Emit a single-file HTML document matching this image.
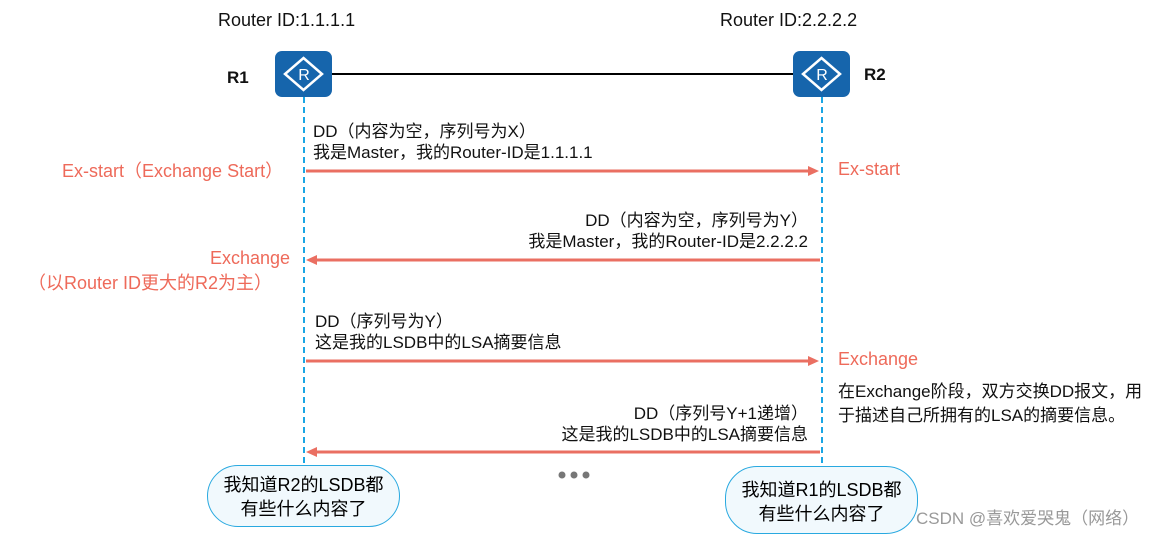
<!DOCTYPE html>
<html><head><meta charset="utf-8"><style>
body{margin:0;width:1170px;height:537px;background:#fff;position:relative;overflow:hidden;font-family:"Liberation Sans","Noto Sans CJK SC",sans-serif;}
.t{position:absolute;white-space:nowrap;font-size:17px;color:#111;line-height:21px;}
.o{color:#ee6a5a;font-size:18px;}
.b{position:absolute;border:1.5px solid #29a9e0;background:#f1f9fd;border-radius:32px;text-align:center;font-size:18px;line-height:24px;padding-top:7px;box-sizing:border-box;}
</style></head><body>
<svg width="1170" height="537" style="position:absolute;left:0;top:0">
<line x1="332" y1="74" x2="793" y2="74" stroke="#000" stroke-width="2"/>
<line x1="304" y1="97" x2="304" y2="466" stroke="#1aa6e4" stroke-width="2" stroke-dasharray="6,4"/>
<line x1="822" y1="97" x2="822" y2="466" stroke="#1aa6e4" stroke-width="2" stroke-dasharray="6,4"/>
<g fill="#1665ac"><rect x="275" y="51" width="57" height="46" rx="7"/><rect x="793" y="51" width="57" height="46" rx="7"/></g>
<g fill="none" stroke="#fff" stroke-width="2.5"><polygon points="303.5,58 322,74 303.5,90 285,74"/><polygon points="821.5,58 840,74 821.5,90 803,74"/></g>
<g fill="#fff" font-size="16" text-anchor="middle" font-family="Liberation Sans"><text x="304" y="80">R</text><text x="822" y="80">R</text></g>
<g stroke="#ea6f62" stroke-width="3" fill="#ea6f62">
<line x1="306" y1="171" x2="810" y2="171"/><polygon points="819,171 808,166 808,176" stroke="none"/>
<line x1="316" y1="260" x2="820" y2="260"/><polygon points="306,260 317,255 317,265" stroke="none"/>
<line x1="306" y1="361" x2="810" y2="361"/><polygon points="819,361 808,356 808,366" stroke="none"/>
<line x1="316" y1="452" x2="820" y2="452"/><polygon points="306,452 317,447 317,457" stroke="none"/>
</g>
<g fill="#777"><circle cx="562" cy="475" r="3.5"/><circle cx="574" cy="475" r="3.5"/><circle cx="586" cy="475" r="3.5"/></g>
</svg>
<div class="t" style="left:218px;top:10px;font-size:18px">Router ID:1.1.1.1</div>
<div class="t" style="left:720px;top:10px;font-size:18px">Router ID:2.2.2.2</div>
<div class="t" style="left:227px;top:67px;font-weight:bold;font-size:17px">R1</div>
<div class="t" style="left:864px;top:64px;font-weight:bold;font-size:17px">R2</div>
<div class="t" style="left:313px;top:121px">DD（内容为空，序列号为X）<br>我是Master，我的Router-ID是1.1.1.1</div>
<div class="t o" style="left:62px;top:161px">Ex-start（Exchange Start）</div>
<div class="t o" style="left:838px;top:159px">Ex-start</div>
<div class="t" style="left:408px;top:210px;text-align:right;width:400px">DD（内容为空，序列号为Y）<br>我是Master，我的Router-ID是2.2.2.2</div>
<div class="t o" style="left:210px;top:248px">Exchange</div>
<div class="t o" style="left:28px;top:273px">（以Router ID更大的R2为主）</div>
<div class="t" style="left:315px;top:311px">DD（序列号为Y）<br>这是我的LSDB中的LSA摘要信息</div>
<div class="t o" style="left:838px;top:349px">Exchange</div>
<div class="t" style="left:838px;top:380px;line-height:24px">在Exchange阶段，双方交换DD报文，用<br>于描述自己所拥有的LSA的摘要信息。</div>
<div class="t" style="left:408px;top:403px;text-align:right;width:400px">DD（序列号Y+1递增）<br>这是我的LSDB中的LSA摘要信息</div>
<div class="b" style="left:207px;top:465px;width:193px;height:62px">我知道R2的LSDB都<br>有些什么内容了</div>
<div class="b" style="left:725px;top:466px;width:193px;height:68px;padding-top:11px">我知道R1的LSDB都<br>有些什么内容了</div>
<div class="t" style="left:916px;top:508px;color:#999;font-size:17px">CSDN @喜欢爱哭鬼（网络）</div>
</body></html>
